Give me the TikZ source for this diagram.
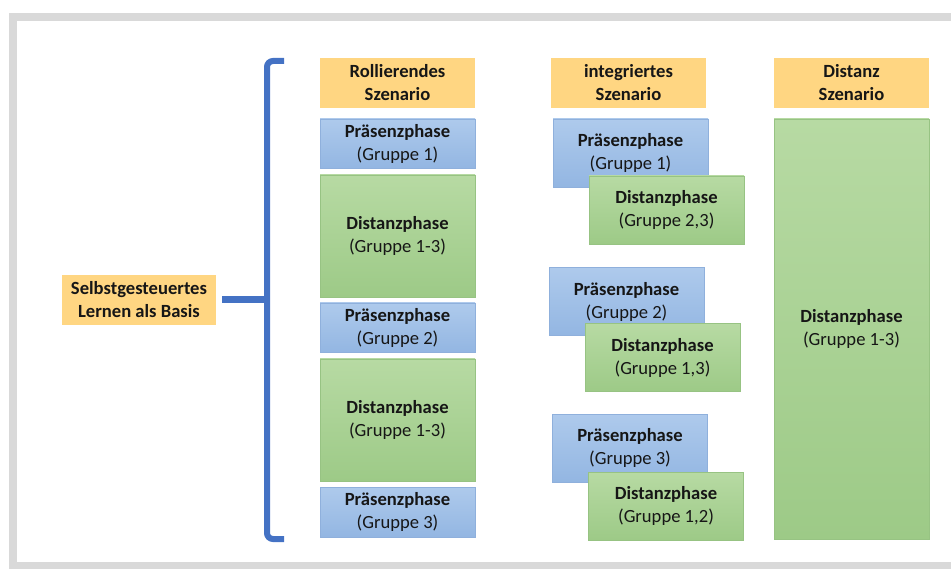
\documentclass[tikz,border=0pt]{standalone}
\usepackage{fontspec}
\setmainfont{Carlito}
\usetikzlibrary{positioning}

\definecolor{headorange}{HTML}{FFD682}
\definecolor{praestop}{HTML}{AECAEC}
\definecolor{praesbot}{HTML}{93B6E2}
\definecolor{praesline}{HTML}{8FB0DC}
\definecolor{disttop}{HTML}{B7DAA3}
\definecolor{distbot}{HTML}{9DCA87}
\definecolor{distline}{HTML}{97C383}
\definecolor{braceblue}{HTML}{4472C4}
\definecolor{framegray}{HTML}{D9D9D9}
\definecolor{textdark}{HTML}{161616}

\begin{document}
\begin{tikzpicture}[x=1pt,y=-1pt]
            \tikzstyle{block} = [rectangle, inner sep=0pt, outer sep=0pt, align=center, text=textdark, minimum width=155pt, font=\fontsize{18.6}{23}\selectfont]
            \tikzstyle{head} = [block, fill=headorange, minimum height=50pt, font=\bfseries\fontsize{18.6}{23}\selectfont]
            \tikzstyle{praes} = [block, draw=praesline, line width=0.8pt, top color=praestop, bottom color=praesbot, minimum height=68pt]
            \tikzstyle{dist} = [block, draw=distline, line width=0.8pt, top color=disttop, bottom color=distbot, minimum height=68pt]
            \tikzstyle{bracel} = [draw=braceblue, line width=6pt]

            \useasboundingbox (0,0) rectangle (951,569);
            \clip (0,0) rectangle (951,569);
            \draw[framegray, line width=8pt] (12.5,17) rectangle (975,566);

            \node [head, minimum width=154pt] (basis) at (139,300) {Selbstgesteuertes\\Lernen als Basis};

            % rollierendes Szenario
            \node [head] (rollHead) at (397.5,83) {Rollierendes\\Szenario};
            \node [praes, minimum height=49pt, below = 11pt of rollHead] (rollP1) {\textbf{Präsenzphase}\\(Gruppe 1)};
            \node [dist, minimum height=122pt, below = 7pt of rollP1] (rollD1) {\textbf{Distanzphase}\\(Gruppe 1-3)};
            \node [praes, minimum height=49pt, below = 6pt of rollD1] (rollP2) {\textbf{Präsenzphase}\\(Gruppe 2)};
            \node [dist, minimum height=122pt, below = 7pt of rollP2] (rollD2) {\textbf{Distanzphase}\\(Gruppe 1-3)};
            \node [praes, minimum height=50pt, below = 6pt of rollD2] (rollP3) {\textbf{Präsenzphase}\\(Gruppe 3)};

            % integriertes Szenario
            \node [head] (intHead) at (628.5,83) {integriertes\\Szenario};
            \node [praes] (intP1) at (630.5,153) {\textbf{Präsenzphase}\\(Gruppe 1)};
            \node [dist, below right = -11pt and -119pt of intP1] (intD1) {\textbf{Distanzphase}\\(Gruppe 2,3)};
            \node [praes] (intP2) at (626.5,301.5) {\textbf{Präsenzphase}\\(Gruppe 2)};
            \node [dist, below right = -12pt and -119pt of intP2] (intD2) {\textbf{Distanzphase}\\(Gruppe 1,3)};
            \node [praes] (intP3) at (630,448) {\textbf{Präsenzphase}\\(Gruppe 3)};
            \node [dist, below right = -10pt and -119pt of intP3] (intD3) {\textbf{Distanzphase}\\(Gruppe 1,2)};

            % Distanz Szenario
            \node [head] (distHead) at (851.5,83) {Distanz\\Szenario};
            \node [dist, minimum height=420pt, below = 11pt of distHead] (distAll) {\textbf{Distanzphase}\\(Gruppe 1-3)};

            % Klammer
            \coordinate (braceTop) at (284,61);
            \coordinate (braceBot) at (284,539);
            \coordinate (braceMid) at (270,300);
            \draw [bracel, rounded corners=6pt] (braceTop) -- (267,61) -- (267,539) -- (braceBot);
            \draw [bracel, line width=7pt] ([xshift=6pt]basis.east) -- (braceMid);
\end{tikzpicture}
\end{document}
